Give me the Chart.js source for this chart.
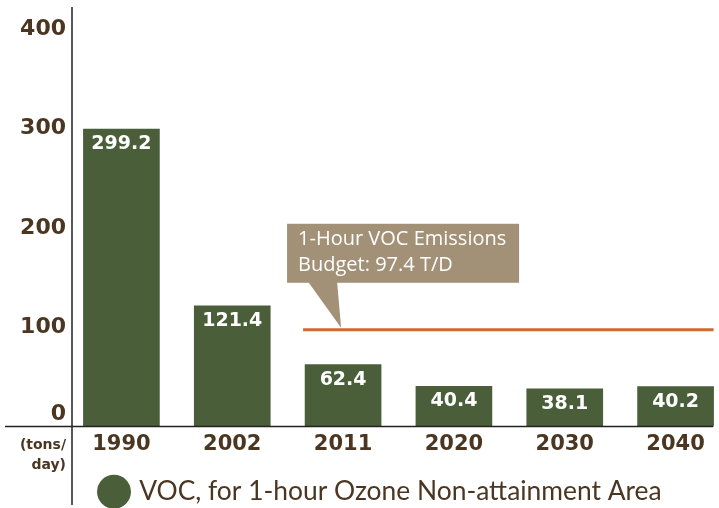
<!DOCTYPE html>
<html>
<head>
<meta charset="utf-8">
<script src="https://cdn.jsdelivr.net/npm/chart.js@4.4.0/dist/chart.umd.min.js"></script>
<style>
  html, body { margin: 0; padding: 0; background: #fff; overflow: hidden; }
  #wrap { width: 719px; height: 508px; overflow: hidden; }
</style>
</head>
<body>
<div id="wrap"><canvas id="vocChart" width="731" height="515"></canvas></div>
<script>
const years = ['1990', '2002', '2011', '2020', '2030', '2040'];
const vocTons = [299.2, 121.4, 62.4, 40.4, 38.1, 40.2];
const budgetTons = 97.4;
const yTicks = [0, 100, 200, 300, 400];
const budgetText = ['1-Hour VOC Emissions', 'Budget: 97.4 T/D'];
const unitText = ['(tons/', 'day)'];

const green = '#4a5e3a';
const brown = '#4b3621';
const tan = '#a39177';
const orange = '#cf6a2e';

// bar values, axis lines, budget line and its callout
const extras = {
  id: 'extras',
  afterDatasetsDraw(chart) {
    const {ctx, chartArea, scales: {y}} = chart;
    const bars = chart.getDatasetMeta(0).data;
    const base = y.getPixelForValue(0);

    ctx.save();
    ctx.fillStyle = '#fff';
    ctx.font = 'bold 19px "DejaVu Sans"';
    ctx.textAlign = 'center';
    ctx.textBaseline = 'middle';
    bars.forEach((bar, i) => ctx.fillText(vocTons[i].toFixed(1), bar.x, bar.y + 15));

    ctx.strokeStyle = '#222';
    ctx.lineWidth = 1.5;
    ctx.beginPath();
    ctx.moveTo(chartArea.left + 6, 7);
    ctx.lineTo(chartArea.left + 6, 505);
    ctx.moveTo(5, base);
    ctx.lineTo(713, base);
    ctx.stroke();

    // units under the y axis
    ctx.fillStyle = brown;
    ctx.font = 'bold 14px "DejaVu Sans"';
    ctx.textAlign = 'right';
    unitText.forEach((t, i) => ctx.fillText(t, chartArea.left, base + 19 + i * 20));

    // emissions budget
    const lineY = y.getPixelForValue(budgetTons);
    const b0 = bars[2], b5 = bars[5];
    ctx.strokeStyle = orange;
    ctx.lineWidth = 3;
    ctx.beginPath();
    ctx.moveTo(b0.x - b0.width / 2 - 2, lineY);
    ctx.lineTo(b5.x + b5.width / 2, lineY);
    ctx.stroke();

    const tipX = b0.x - 2;
    const boxL = b0.x - 56, boxR = b0.x + 176;
    const boxT = lineY - 106, boxB = boxT + 59;
    ctx.fillStyle = tan;
    ctx.fillRect(boxL, boxT, boxR - boxL, boxB - boxT);
    ctx.beginPath();
    ctx.moveTo(tipX - 33, boxB - 1);
    ctx.lineTo(tipX - 4, boxB - 1);
    ctx.lineTo(tipX, lineY - 2);
    ctx.closePath();
    ctx.fill();

    ctx.fillStyle = '#fff';
    ctx.font = '20px "Open Sans"';
    ctx.textAlign = 'left';
    budgetText.forEach((t, i) => ctx.fillText(t, boxL + 11, boxT + 16 + i * 26));
    ctx.restore();
  }
};

new Chart(document.getElementById('vocChart'), {
  type: 'bar',
  data: {
    labels: years,
    datasets: [{
      label: 'VOC, for 1-hour Ozone Non-attainment Area',
      data: vocTons,
      backgroundColor: green,
      barThickness: 76
    }]
  },
  options: {
    responsive: false,
    animation: false,
    layout: { padding: { top: 29, left: 0, right: 0, bottom: 0 } },
    scales: {
      x: {
        grid: { display: false, drawTicks: false },
        border: { display: false },
        ticks: {
          color: brown,
          mirror: true,
          padding: -31,
          font: { family: 'DejaVu Sans', size: 21, weight: 'bold' }
        },
        afterFit: s => { s.height = 16; }
      },
      y: {
        min: 0,
        max: 400,
        grid: { display: false, drawTicks: false },
        border: { display: false },
        afterBuildTicks: s => { s.ticks = yTicks.map(v => ({ value: v })); },
        ticks: {
          color: brown,
          padding: 0,
          font: { family: 'DejaVu Sans', size: 22, weight: 'bold', lineHeight: 1.1 },
          callback: v => v === 0 ? ['0', ''] : String(v)
        },
        afterFit: s => { s.width = 66; }
      }
    },
    plugins: {
      tooltip: { enabled: false },
      legend: {
        position: 'bottom',
        align: 'start',
        fullSize: false,
        labels: {
          usePointStyle: true,
          pointStyle: 'circle',
          boxWidth: 24,
          boxHeight: 24,
          padding: 36,
          color: brown,
          font: { family: 'Lato', size: 26.4 }
        }
      }
    }
  },
  plugins: [extras]
});
</script>
</body>
</html>
